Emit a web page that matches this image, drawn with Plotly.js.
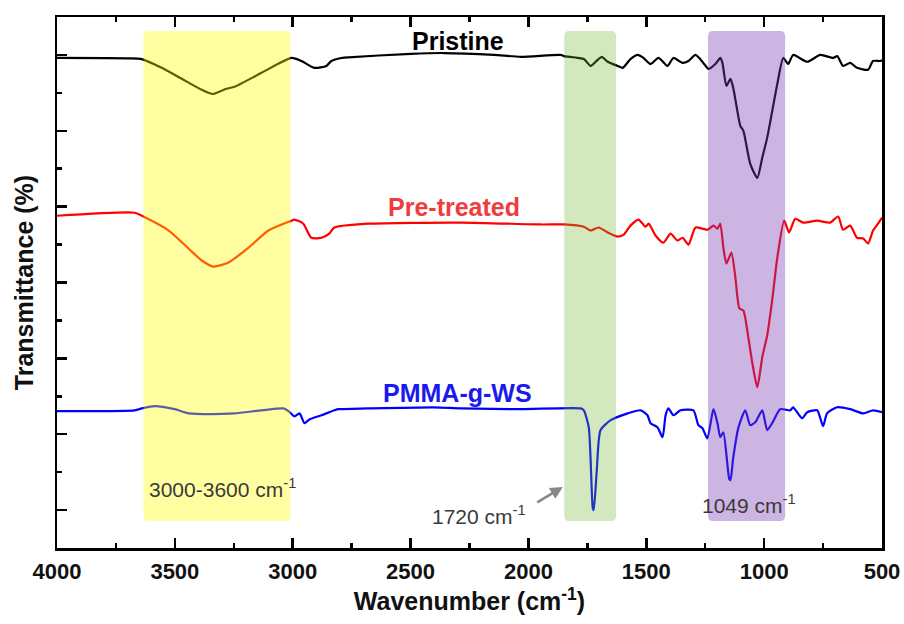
<!DOCTYPE html>
<html>
<head>
<meta charset="utf-8">
<script src="https://cdn.plot.ly/plotly-3.0.1.min.js"></script>
<style>html,body{margin:0;padding:0;background:#fff;}#chart{width:904px;height:624px;}</style>
</head>
<body>
<div id="chart"></div>
<script>
// ---- Data (wavenumber in cm^-1, transmittance in arbitrary offset units) ----
var wnPristine = [4000,3700,3640,3556,3471,3386,3340,3281,3247,3132,3005,2963,2908,2857,2836,2794,2781,2498,2358,2146,2032,1863,1850,1765,1736,1706,1689,1664,1621,1600,1567,1537,1512,1482,1448,1410,1385,1346,1321,1291,1258,1236,1207,1186,1177,1160,1143,1131,1101,1088,1059,1029,1008,987,944,919,898,877,817,762,707,690,665,635,606,559,538,508,500];
var tPristine  = [12.92,12.91,12.89,12.66,12.37,12.08,11.97,12.11,12.16,12.53,12.92,12.84,12.66,12.71,12.84,12.92,12.93,13.03,13.05,13.0,12.95,13.0,12.97,12.89,12.71,12.87,12.95,12.82,12.71,12.66,12.89,13.0,12.92,12.76,12.92,12.71,12.92,12.79,12.84,13.0,12.79,12.63,12.76,12.92,12.79,12.18,12.37,12.13,11.13,11.0,10.13,9.76,10.29,10.82,12.24,12.92,12.76,13.0,12.82,13.0,12.92,12.97,12.71,12.79,12.66,12.61,12.84,12.84,12.86];

var wnPre = [4000,3670,3640,3526,3441,3386,3336,3272,3187,3103,3005,2993,2955,2921,2878,2845,2823,2680,2286,1947,1850,1765,1736,1702,1664,1621,1596,1567,1533,1503,1490,1461,1427,1397,1368,1346,1321,1291,1241,1215,1198,1186,1173,1160,1139,1122,1105,1088,1067,1050,1029,1008,987,966,944,915,894,868,834,775,720,686,665,635,606,580,559,538,517,500];
var tPre  = [8.76,8.84,8.76,8.37,7.89,7.58,7.42,7.53,7.92,8.37,8.63,8.66,8.55,8.18,8.18,8.29,8.45,8.55,8.58,8.53,8.53,8.47,8.37,8.45,8.32,8.21,8.26,8.50,8.66,8.47,8.55,8.24,8.05,8.29,8.11,8.18,8.0,8.45,8.39,8.50,8.42,8.55,7.92,7.50,7.79,7.13,6.32,6.26,5.55,4.87,4.24,5.03,5.61,6.53,7.66,8.63,8.32,8.68,8.58,8.63,8.58,8.74,8.39,8.50,8.18,8.16,8.03,8.37,8.55,8.71];

var wnPmma = [4000,3670,3640,3585,3501,3441,3344,3247,3132,3039,3018,2993,2971,2950,2929,2878,2823,2806,2680,2400,2286,2032,1778,1765,1744,1727,1723,1710,1694,1651,1579,1524,1495,1482,1452,1431,1418,1406,1385,1355,1300,1279,1262,1241,1215,1198,1186,1173,1148,1143,1131,1109,1080,1059,1037,1008,987,966,932,889,877,839,817,775,750,733,690,635,580,538,500];
var tPmma  = [3.61,3.63,3.68,3.74,3.66,3.55,3.53,3.55,3.63,3.68,3.61,3.47,3.55,3.29,3.39,3.50,3.63,3.66,3.68,3.71,3.68,3.66,3.68,3.63,3.18,1.05,1.0,2.05,3.11,3.37,3.55,3.63,3.50,3.29,3.18,2.92,3.50,3.68,3.50,3.63,3.63,3.24,3.16,2.89,3.66,3.29,2.92,3.05,1.82,1.79,2.39,3.18,3.63,3.24,3.32,3.63,3.11,3.29,3.66,3.63,3.71,3.42,3.58,3.63,3.21,3.55,3.71,3.66,3.55,3.63,3.58];

var seriesNames = ['Pristine','Pre-treated','PMMA-g-WS'];
var xTickVals = [4000,3500,3000,2500,2000,1500,1000,500];
var xTickText = ['4000','3500','3000','2500','2000','1500','1000','500'];
var xMinorVals = [3750,3250,2750,2250,1750,1250,750];
var yTickVals = [1,3,5,7,9,11,13];
var yMinorVals = [2,4,6,8,10,12];
// highlighted bands (cm^-1)
var bandYellow = [3633,3010];
var bandGreen  = [1848,1628];
var bandPurple = [1238,911];

function roundRect(xa, xb, y0, y1) {
  var rx = 21, ry = 0.14; // xa > xb (reversed axis: xa is left)
  return 'M' + (xa - rx) + ',' + y1 + ' L' + (xb + rx) + ',' + y1 +
    ' Q' + xb + ',' + y1 + ' ' + xb + ',' + (y1 - ry) +
    ' L' + xb + ',' + (y0 + ry) + ' Q' + xb + ',' + y0 + ' ' + (xb + rx) + ',' + y0 +
    ' L' + (xa - rx) + ',' + y0 + ' Q' + xa + ',' + y0 + ' ' + xa + ',' + (y0 + ry) +
    ' L' + xa + ',' + (y1 - ry) + ' Q' + xa + ',' + y1 + ' ' + (xa - rx) + ',' + y1 + ' Z';
}

var FONT = 'Arial, "Liberation Sans", sans-serif';

var traces = [
  {x: wnPristine, y: tPristine, mode: 'lines', name: seriesNames[0], line: {color: '#000000', width: 2.2, shape: 'spline', smoothing: 0.6}},
  {x: wnPre, y: tPre, mode: 'lines', name: seriesNames[1], line: {color: '#ff0000', width: 2.2, shape: 'spline', smoothing: 0.6}},
  {x: wnPmma, y: tPmma, mode: 'lines', name: seriesNames[2], line: {color: '#0000ff', width: 2.2, shape: 'spline', smoothing: 0.6}}
];

var bandY0 = 0.71, bandY1 = 13.63;

var layout = {
  width: 904, height: 624,
  margin: {l: 57, r: 22, t: 17, b: 76},
  paper_bgcolor: '#ffffff', plot_bgcolor: '#ffffff',
  showlegend: false,
  font: {family: FONT, color: '#000'},
  xaxis: {
    range: [4000, 500], autorange: false,
    tickvals: xTickVals, ticktext: xTickText.map(function (t) { return '<b>' + t + '</b>'; }),
    ticks: 'inside', ticklen: 10, tickwidth: 2.5, tickcolor: '#000',
    minor: {tickvals: xMinorVals, ticks: 'inside', ticklen: 5, tickwidth: 2.5, tickcolor: '#000'},
    showline: true, linecolor: '#000', linewidth: 2.5, mirror: 'ticks',
    showgrid: false, zeroline: false,
    tickfont: {family: FONT, size: 22, color: '#111'},
    ticklabelstandoff: 2,
    title: {text: '<b>Wavenumber (cm<sup>-1</sup>)</b>', font: {family: FONT, size: 25, color: '#111'}, standoff: 8}
  },
  yaxis: {
    range: [0, 14], autorange: false,
    tickvals: yTickVals, showticklabels: false,
    ticks: 'inside', ticklen: 10, tickwidth: 2.5, tickcolor: '#000',
    minor: {tickvals: yMinorVals, ticks: 'inside', ticklen: 5, tickwidth: 2.5, tickcolor: '#000'},
    showline: true, linecolor: '#000', linewidth: 2.5, mirror: true,
    showgrid: false, zeroline: false,
    title: {text: '<b>Transmittance (%)</b>', font: {family: FONT, size: 25, color: '#111'}, standoff: 14}
  },
  shapes: [
    {type: 'path', xref: 'x', yref: 'y', path: roundRect(bandYellow[0], bandYellow[1], bandY0, bandY1), fillcolor: 'rgba(255,255,0,0.37)', line: {width: 0}, layer: 'above'},
    {type: 'path', xref: 'x', yref: 'y', path: roundRect(bandGreen[0], bandGreen[1], bandY0, bandY1), fillcolor: 'rgba(110,180,40,0.3)', line: {width: 0}, layer: 'above'},
    {type: 'path', xref: 'x', yref: 'y', path: roundRect(bandPurple[0], bandPurple[1], bandY0, bandY1), fillcolor: 'rgba(120,60,180,0.38)', line: {width: 0}, layer: 'above'}
  ],
  annotations: [
    {x: 2299, y: 13.37, xref: 'x', yref: 'y', text: '<b>' + seriesNames[0] + '</b>', showarrow: false, font: {family: FONT, size: 25, color: '#000'}},
    {x: 2316, y: 9.0, xref: 'x', yref: 'y', text: '<b>' + seriesNames[1] + '</b>', showarrow: false, font: {family: FONT, size: 25, color: '#f03c3c'}},
    {x: 2299, y: 4.08, xref: 'x', yref: 'y', text: '<b>' + seriesNames[2] + '</b>', showarrow: false, font: {family: FONT, size: 25, color: '#1a1aee'}},
    {x: 3297, y: 1.58, xref: 'x', yref: 'y', text: '3000-3600 cm<sup>-1</sup>', showarrow: false, font: {family: FONT, size: 21, color: '#3a3a3a'}},
    {x: 2210, y: 0.87, xref: 'x', yref: 'y', text: '1720 cm<sup>-1</sup>', showarrow: false, font: {family: FONT, size: 21, color: '#3a3a3a'}},
    {x: 1063, y: 1.16, xref: 'x', yref: 'y', text: '1049 cm<sup>-1</sup>', showarrow: false, font: {family: FONT, size: 21, color: '#3a3a3a'}},
    {x: 1854, y: 1.61, xref: 'x', yref: 'y', axref: 'x', ayref: 'y', ax: 1969, ay: 1.18, text: '', showarrow: true, arrowhead: 2, arrowsize: 1, arrowwidth: 2.5, arrowcolor: '#888888'}
  ]
};

Plotly.newPlot('chart', traces, layout, {staticPlot: true, displayModeBar: false});
</script>
</body>
</html>
